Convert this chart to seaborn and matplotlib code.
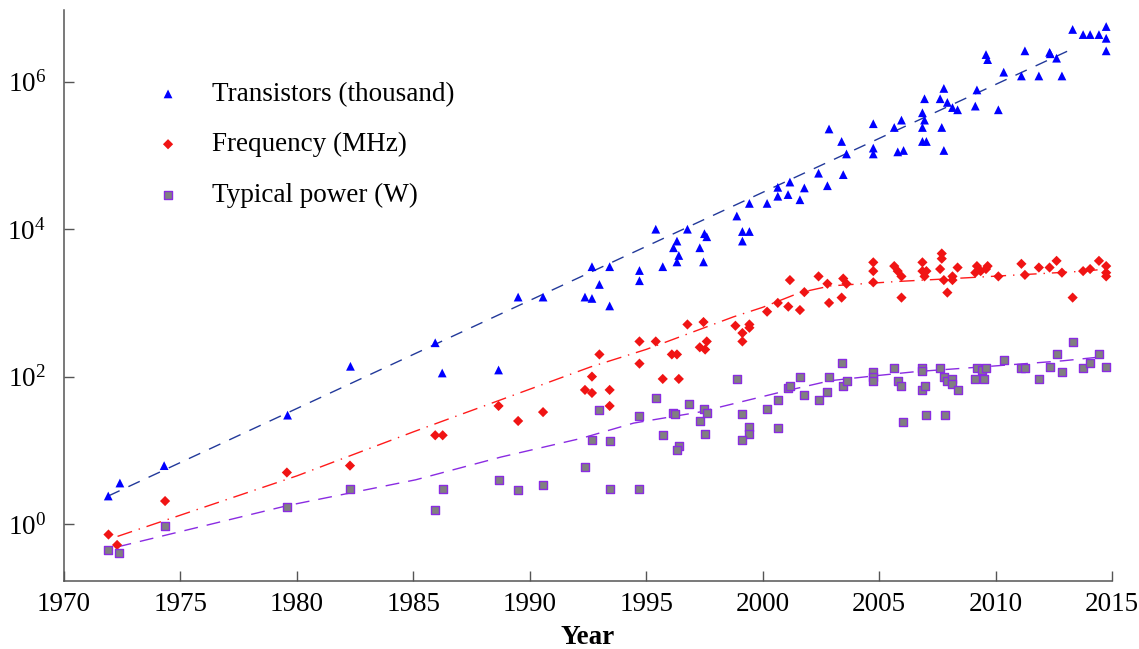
import numpy as np
import matplotlib
matplotlib.use("Agg")
import matplotlib.pyplot as plt
from matplotlib.ticker import FixedLocator, NullLocator
import seaborn as sns

# ---------------- data ----------------
trans_year = [1971.9, 1972.4, 1974.3, 1979.6, 1982.3, 1985.94, 1986.24, 1988.66,
              1989.5, 1990.57, 1992.37, 1992.67, 1992.67, 1992.99, 1993.43, 1993.43,
              1994.71, 1994.71, 1995.41, 1995.71, 1996.17, 1996.32, 1996.40, 1996.32,
              1996.77, 1997.30, 1997.46, 1997.50, 1997.60, 1998.89, 1999.13, 1999.43,
              1999.13, 1999.43, 2000.19, 2000.65, 2000.65, 2001.09, 2001.17, 2001.60,
              2001.79, 2002.40, 2002.78, 2002.85, 2003.39, 2003.46, 2003.60, 2004.75,
              2004.75, 2004.75, 2005.65, 2005.96, 2005.80, 2006.05, 2006.86, 2006.95,
              2006.86, 2006.95, 2006.86, 2007.03, 2007.62, 2007.78, 2007.69, 2007.78,
              2007.93, 2008.15, 2008.37, 2009.13, 2009.20, 2009.59, 2009.66, 2010.12,
              2010.35, 2011.11, 2011.26, 2011.86, 2012.32, 2012.35, 2012.62, 2012.85,
              2013.31, 2013.76, 2014.06, 2014.44, 2014.75, 2014.75, 2014.75]
trans_value = [2.4, 3.6, 6.2, 30, 138, 288, 112, 123,
               1200, 1200, 1200, 1150, 3100, 1780, 3100, 910,
               2750, 2000, 10000, 3100, 5600, 6900, 4400, 3600,
               10000, 5600, 3600, 8700, 7900, 15100, 9300, 9300,
               6900, 22400, 22400, 37000, 28000, 29500, 43600, 25100,
               36300, 57500, 38900, 229000, 155000, 55000, 105000, 270000,
               126000, 105000, 240000, 302000, 112000, 117000, 380000, 589000,
               240000, 302000, 155000, 155000, 589000, 813000, 240000, 117000,
               525000, 447000, 417000, 468000, 776000, 2340000, 2000000, 417000,
               1350000, 1200000, 2630000, 1200000, 2510000, 2400000, 2090000, 1200000,
               5130000, 4370000, 4370000, 4370000, 5620000, 3890000, 2630000]

freq_year = [1971.91, 1972.28, 1974.34, 1979.57, 1982.28, 1985.94, 1986.26, 1988.66,
             1989.50, 1990.57, 1992.37, 1992.67, 1992.67, 1992.99, 1993.43, 1993.43,
             1994.71, 1994.71, 1995.41, 1995.71, 1996.10, 1996.32, 1996.40, 1996.77,
             1997.46, 1997.30, 1997.53, 1997.60, 1998.83, 1999.13, 1999.13, 1999.43,
             1999.43, 2000.19, 2000.65, 2001.10, 2001.17, 2001.60, 2001.79, 2002.40,
             2002.78, 2002.85, 2003.39, 2003.46, 2003.60, 2004.75, 2004.75, 2004.75,
             2005.65, 2005.80, 2005.96, 2005.96, 2006.86, 2006.86, 2007.03, 2006.95,
             2007.69, 2007.69, 2007.62, 2007.78, 2007.93, 2008.15, 2008.15, 2008.37,
             2009.13, 2009.20, 2009.36, 2009.59, 2009.66, 2010.12, 2011.11, 2011.26,
             2011.86, 2012.32, 2012.62, 2012.85, 2013.31, 2013.76, 2014.06, 2014.44,
             2014.75, 2014.75, 2014.75]
freq_value = [0.72, 0.52, 2.05, 5.0, 6.2, 16, 16, 40,
              25, 33, 66, 60, 100, 200, 66, 40,
              300, 150, 300, 93, 200, 200, 93, 510,
              550, 250, 233, 300, 490, 390, 300, 510,
              460, 760, 1000, 890, 2040, 800, 1400, 2290,
              1820, 1000, 1180, 2140, 1820, 3550, 2700, 1900,
              3160, 2700, 2290, 1180, 3550, 2700, 2700, 2290,
              4680, 3980, 2880, 2040, 1380, 2290, 2040, 3020,
              2570, 3160, 2700, 2880, 3160, 2290, 3390, 2400,
              3020, 3020, 3720, 2570, 1180, 2700, 2880, 3720,
              3160, 2570, 2290]

power_year = [1971.91, 1972.37, 1974.34, 1979.57, 1982.28, 1985.94, 1986.26, 1988.66,
              1989.50, 1990.57, 1992.37, 1992.67, 1992.99, 1993.43, 1993.43, 1994.71,
              1994.71, 1995.41, 1995.71, 1996.17, 1996.25, 1996.40, 1996.32, 1996.84,
              1997.30, 1997.46, 1997.60, 1997.53, 1998.89, 1999.13, 1999.43, 1999.43,
              1999.13, 2000.19, 2000.65, 2000.65, 2001.10, 2001.17, 2001.60, 2001.79,
              2002.40, 2002.78, 2002.85, 2003.39, 2003.46, 2003.60, 2004.75, 2004.75,
              2004.75, 2005.65, 2005.80, 2005.96, 2006.03, 2006.86, 2006.86, 2006.86,
              2006.95, 2007.01, 2007.62, 2007.78, 2007.85, 2007.92, 2008.15, 2008.15,
              2008.37, 2009.13, 2009.20, 2009.43, 2009.59, 2009.52, 2010.35, 2011.11,
              2011.26, 2011.86, 2012.32, 2012.62, 2012.85, 2013.31, 2013.76, 2014.06,
              2014.44, 2014.75]
power_value = [0.44, 0.41, 0.94, 1.72, 3.0, 1.55, 3.0, 4.0,
               2.86, 3.4, 5.9, 14, 35, 13.5, 3.0, 3.0,
               29, 51, 16, 32, 31, 11.5, 10.2, 43,
               25, 36, 32, 16.8, 93, 31, 21, 16.8,
               14, 36, 48, 20, 71, 74, 98, 56,
               48, 62, 98, 151, 74, 87, 115, 98,
               87, 129, 87, 74, 24.5, 129, 120, 66,
               74, 30, 129, 98, 30, 87, 93, 79,
               66, 93, 129, 123, 129, 93, 170, 129,
               129, 93, 136, 200, 115, 295, 129, 151,
               200, 136]

trend_trans_year = [1971.9, 2000.0, 2013.25]
trend_trans_value = [2.4, 31600, 2750000]

trend_freq_year = [1972.3, 1980.0, 1985.0, 1992.6, 1995.0, 1998.74, 2000.0,
                   2001.6, 2002.9, 2005.75, 2008.75, 2013.75, 2014.75]
trend_freq_value = [0.68, 4.5, 17.8, 135, 234, 646, 871,
                    1380, 1700, 1950, 2190, 2690, 2880]

trend_power_year = [1972.3, 1979.6, 1985.1, 1988.76, 1992.2, 1994.46, 1997.3,
                    2000.9, 2002.9, 2004.75, 2006.6, 2009.5, 2012.9, 2014.6]
trend_power_value = [0.49, 1.78, 3.98, 8.1, 14.5, 23.4, 33.1,
                     63, 88, 102, 117, 136, 164, 186]

series_labels = ["Transistors (thousand)", "Frequency (MHz)", "Typical power (W)"]
x_ticks = [1970, 1975, 1980, 1985, 1990, 1995, 2000, 2005, 2010, 2015]
y_ticks = [1, 1e2, 1e4, 1e6]

# ---------------- style ----------------
sns.set_theme(style="ticks")
plt.rcParams["font.family"] = ["Liberation Serif", "DejaVu Serif"]
plt.rcParams["mathtext.fontset"] = "stix"
plt.rcParams["text.color"] = "black"
plt.rcParams["axes.labelcolor"] = "black"

FS = 19.5
AX_GRAY = "#555555"

fig = plt.figure(figsize=(11.39, 6.49), dpi=100)
ax = fig.add_axes([64 / 1139, 1 - 581 / 649, 1048 / 1139, 571 / 649])

# trend lines
sns.lineplot(x=trend_trans_year, y=trend_trans_value, ax=ax, color="#22399a",
             linewidth=1.0, linestyle=(0, (9, 7)), legend=False, zorder=2,
             estimator=None, sort=False)
sns.lineplot(x=trend_freq_year, y=trend_freq_value, ax=ax, color="#ff1a1a",
             linewidth=1.0, linestyle=(0, (11, 5, 1, 5)), legend=False, zorder=2,
             estimator=None, sort=False)
sns.lineplot(x=trend_power_year, y=trend_power_value, ax=ax, color="#8a2be2",
             linewidth=1.0, linestyle=(0, (10, 6.5)), legend=False, zorder=2,
             estimator=None, sort=False)

# scatter points
sns.scatterplot(x=trans_year, y=trans_value, ax=ax, marker="^", s=40,
                color="#0000ff", edgecolor="none", linewidth=0,
                label=series_labels[0], zorder=3)
sns.scatterplot(x=freq_year, y=freq_value, ax=ax, marker="D", s=27,
                color="#f01414", edgecolor="none", linewidth=0,
                label=series_labels[1], zorder=3)
sns.scatterplot(x=power_year, y=power_value, ax=ax, marker="s", s=32,
                color="#808080", edgecolor="#8a2be2", linewidth=1.0,
                label=series_labels[2], zorder=3)

ax.set_yscale("log")
ax.set_xlim(1970, 2015)
ax.set_ylim(10 ** -0.773, 10 ** 6.974)
ax.set_xticks(x_ticks)
ax.yaxis.set_major_locator(FixedLocator(y_ticks))
ax.yaxis.set_minor_locator(NullLocator())
ax.xaxis.set_minor_locator(NullLocator())

ax.tick_params(axis="both", direction="in", length=7, width=1.0, color=AX_GRAY,
               labelsize=FS, labelcolor="black")
ax.tick_params(axis="x", pad=8)
ax.tick_params(axis="y", pad=13)

for side in ["top", "right"]:
    ax.spines[side].set_visible(False)
for side in ["left", "bottom"]:
    ax.spines[side].set_color(AX_GRAY)
    ax.spines[side].set_linewidth(1.1)

ax.set_xlabel("Year", fontsize=FS, fontweight="bold", labelpad=6, color="black")
ax.set_ylabel("")

leg = ax.legend(loc="upper left", bbox_to_anchor=(154.5 / 1139, 1 - 82 / 649),
                bbox_transform=fig.transFigure, frameon=False, fontsize=FS,
                handlelength=1.0, handletextpad=1.13, labelspacing=0.93,
                borderpad=0, borderaxespad=0, scatterpoints=1)
for t in leg.get_texts():
    t.set_color("black")

fig.savefig("out.png", dpi=100)
